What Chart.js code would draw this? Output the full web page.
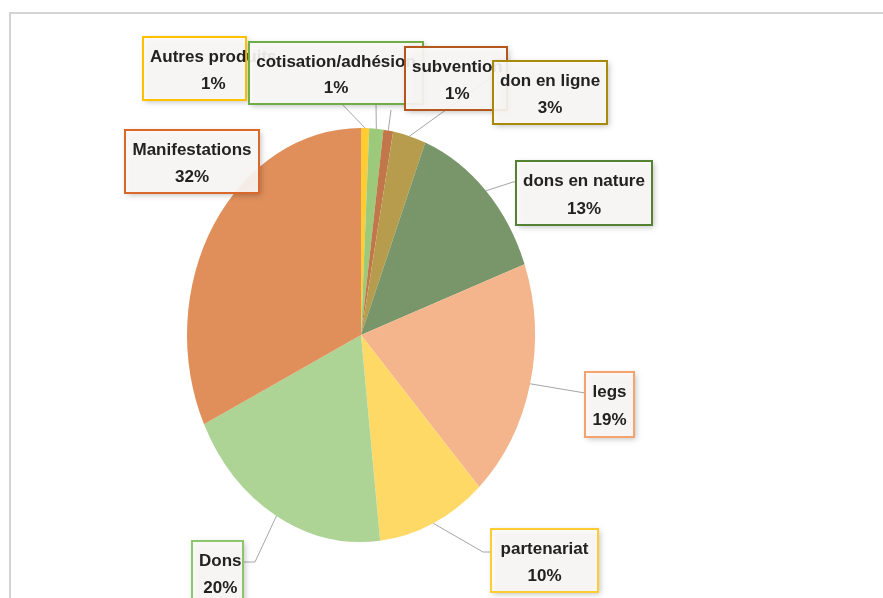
<!DOCTYPE html>
<html>
<head>
<meta charset="utf-8">
<script src="https://cdn.jsdelivr.net/npm/chart.js@4"></script>
<style>
  html, body { margin: 0; padding: 0; background: #fff; }
  #wrap { width: 883px; height: 598px; position: relative; }
</style>
</head>
<body>
<div id="wrap"><canvas id="pieChart" width="883" height="598"></canvas></div>
<script>
// Data (clockwise from 12 o'clock)
const categories = ['Autres produits', 'cotisation/adhésion', 'subvention', 'don en ligne', 'dons en nature', 'legs', 'partenariat', 'Dons', 'Manifestations'];
const values = [0.75, 1.3, 0.9, 3.05, 13.4, 18.6, 10.1, 19.6, 32];

// Styles
const sliceColors = ['#FFCC33', '#9DC97A', '#C2774B', '#B69C4C', '#78966A', '#F4B58C', '#FFD966', '#ADD395', '#E08F5B'];
const boxBorders = ['#FFC000', '#70AD47', '#B5561C', '#A88A0A', '#548235', '#F4A36C', '#FFCC33', '#8CC56A', '#D9682A'];

// Label layout: box rect + leader line points (start comes from the slice)
const labelBoxes = [
  { x: 143, y: 37, w: 103, h: 63, leader: [[338, 100]] },
  { x: 249, y: 42, w: 174, h: 62, leader: [[376, 104]] },
  { x: 405, y: 47, w: 102, h: 63, leader: [[391, 110]] },
  { x: 493, y: 61, w: 114, h: 63, leader: [[493, 76]] },
  { x: 516, y: 161, w: 136, h: 64, leader: [[513, 182], [516, 182]] },
  { x: 585, y: 372, w: 49, h: 65, leader: [[585, 393]] },
  { x: 491, y: 529, w: 107, h: 63, leader: [[483, 552], [491, 552]] },
  { x: 192, y: 541, w: 51, h: 63, leader: [[255, 562], [243, 562]] },
  { x: 125, y: 130, w: 134, h: 63, leader: null }
];

const stretchY = 207 / 174; // pie is drawn as a vertical ellipse
const labelFont = "bold 17px 'Liberation Sans', Arial, sans-serif";

const total = values.reduce((a, b) => a + b, 0);

function arcPoint(arc) {
  const mid = (arc.startAngle + arc.endAngle) / 2;
  return [arc.x + arc.outerRadius * Math.cos(mid), arc.y + arc.outerRadius * Math.sin(mid) * stretchY];
}

const framePlugin = {
  id: 'frame',
  beforeDraw(chart) {
    const ctx = chart.ctx;
    ctx.save();
    ctx.fillStyle = '#fff';
    ctx.fillRect(0, 0, chart.width, chart.height);
    ctx.strokeStyle = '#D4D4D4';
    ctx.lineWidth = 2;
    ctx.strokeRect(10, 13, 900, 620);
    ctx.restore();
  }
};

const stretchPlugin = {
  id: 'stretch',
  beforeDatasetsDraw(chart) {
    const arc = chart.getDatasetMeta(0).data[0];
    const ctx = chart.ctx;
    ctx.save();
    ctx.translate(arc.x, arc.y);
    ctx.scale(1, stretchY);
    ctx.translate(-arc.x, -arc.y);
  },
  afterDatasetsDraw(chart) {
    chart.ctx.restore();
  }
};

const labelPlugin = {
  id: 'boxLabels',
  afterDraw(chart) {
    const ctx = chart.ctx;
    const arcs = chart.getDatasetMeta(0).data;

    // leader lines first, boxes cover them
    ctx.save();
    ctx.strokeStyle = '#A6A6A6';
    ctx.lineWidth = 1;
    labelBoxes.forEach((b, i) => {
      if (!b.leader) return;
      const p = arcPoint(arcs[i]);
      ctx.beginPath();
      ctx.moveTo(p[0], p[1]);
      b.leader.forEach(pt => ctx.lineTo(pt[0], pt[1]));
      ctx.stroke();
    });
    ctx.restore();

    labelBoxes.forEach((b, i) => {
      const lines = [categories[i], Math.round(values[i] / total * 100) + '%'];
      ctx.save();
      ctx.shadowColor = 'rgba(0,0,0,0.28)';
      ctx.shadowBlur = 6;
      ctx.shadowOffsetX = 2;
      ctx.shadowOffsetY = 2;
      ctx.fillStyle = 'rgba(253,251,248,0.9)';
      ctx.fillRect(b.x, b.y, b.w, b.h);
      ctx.restore();

      ctx.save();
      ctx.strokeStyle = boxBorders[i];
      ctx.lineWidth = 2;
      ctx.strokeRect(b.x, b.y, b.w, b.h);

      ctx.font = labelFont;
      ctx.fillStyle = '#222';
      ctx.textAlign = 'center';
      ctx.textBaseline = 'middle';
      const blockW = Math.max(...lines.map(t => ctx.measureText(t).width));
      const cx = blockW > b.w - 14 ? b.x + 7 + blockW / 2 : b.x + b.w / 2;
      ctx.fillText(lines[0], cx, b.y + b.h * 0.32);
      ctx.fillText(lines[1], cx, b.y + b.h * 0.75);
      ctx.restore();
    });
  }
};

new Chart(document.getElementById('pieChart'), {
  type: 'pie',
  data: {
    labels: categories,
    datasets: [{
      data: values,
      backgroundColor: sliceColors,
      borderWidth: 0,
      clip: false
    }]
  },
  options: {
    responsive: false,
    animation: false,
    events: [],
    layout: {
      // centre (361, 335), radius 174
      padding: { left: 187, right: 348, top: 161, bottom: 89 }
    },
    plugins: {
      legend: { display: false },
      tooltip: { enabled: false }
    }
  },
  plugins: [framePlugin, stretchPlugin, labelPlugin]
});
</script>
</body>
</html>
